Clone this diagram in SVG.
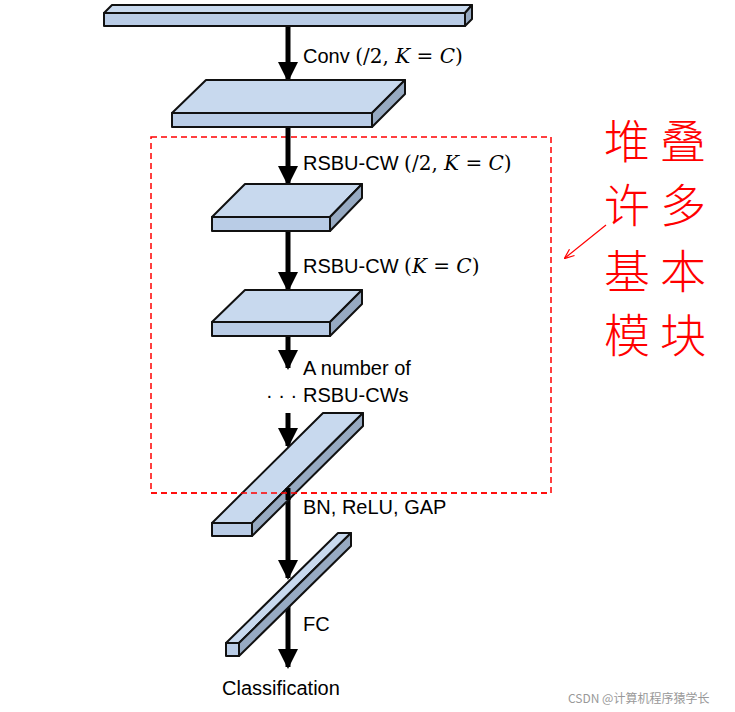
<svg xmlns="http://www.w3.org/2000/svg" width="735" height="712" viewBox="0 0 735 712">
<style>
.t{fill:#c8d9ee;stroke:#111;stroke-width:2;stroke-linejoin:round}
.f{fill:#b9cce6;stroke:#111;stroke-width:2;stroke-linejoin:round}
.s{fill:#97aac2;stroke:#111;stroke-width:2;stroke-linejoin:round}
.sh{stroke:#000;stroke-width:5}
.lb{font-family:"Liberation Sans",Arial,sans-serif;font-size:20px;fill:#000}
.m{font-family:"DejaVu Serif",serif;font-style:italic}
.o{font-family:"DejaVu Serif",serif}
.cn{font-family:"Noto Sans CJK SC",sans-serif;font-size:46px;font-weight:300;fill:#f00}
</style>
<defs>
<marker id="ah" markerWidth="4" markerHeight="4" refX="3.6" refY="2" orient="auto" markerUnits="strokeWidth" viewBox="0 0 4 4"><path d="M0,0 L4,2 L0,4 Z" fill="#000"/></marker>
<marker id="rh" markerWidth="10" markerHeight="10" refX="9" refY="5" orient="auto" markerUnits="userSpaceOnUse" viewBox="0 0 10 10"><path d="M0,1 L10,5 L0,9" fill="none" stroke="#f00" stroke-width="1.2"/></marker>
</defs>
<rect x="151" y="137" width="400" height="356" fill="none" stroke="#f00" stroke-width="1.5" stroke-dasharray="6,4"/>
<g id="connectors">
<line class="sh" x1="288" y1="26" x2="288" y2="80" marker-end="url(#ah)"/>
<line class="sh" x1="288" y1="127" x2="288" y2="184" marker-end="url(#ah)"/>
<line class="sh" x1="288" y1="231" x2="288" y2="290" marker-end="url(#ah)"/>
<line class="sh" x1="288" y1="336" x2="288" y2="368" marker-end="url(#ah)"/>
<line class="sh" x1="288" y1="413" x2="288" y2="446" marker-end="url(#ah)"/>
<line class="sh" x1="288" y1="480" x2="288" y2="578" marker-end="url(#ah)"/>
<line class="sh" x1="288" y1="595" x2="288" y2="667" marker-end="url(#ah)"/>
<line x1="606" y1="225" x2="565" y2="258" stroke="#f00" stroke-width="1.2" marker-end="url(#rh)"/>
</g>
<g id="n1"><polygon class="t" points="104,13 112,5 472,5 465,13"/><polygon class="s" points="465,13 472,5 472,19 465,26"/><rect class="f" x="104" y="13" width="361" height="13"/></g>
<g id="n2"><polygon class="t" points="172,113 206,80 405,80 372,113"/><polygon class="s" points="372,113 405,80 405,94 372,127"/><rect class="f" x="172" y="113" width="200" height="14"/></g>
<g id="n3"><polygon class="t" points="212,217 245,184 362,184 330,217"/><polygon class="s" points="330,217 362,184 362,198 330,231"/><rect class="f" x="212" y="217" width="118" height="14"/></g>
<g id="n4"><polygon class="t" points="212,322 245,290 362,290 330,322"/><polygon class="s" points="330,322 362,290 362,304 330,336"/><rect class="f" x="212" y="322" width="118" height="14"/></g>
<g id="n5"><polygon class="t" points="212,523 323,413 363,413 252,523"/><polygon class="s" points="252,523 363,413 363,426 252,536"/><rect class="f" x="212" y="523" width="40" height="13"/></g>
<line x1="288" y1="488" x2="288" y2="500" stroke="#000" stroke-width="5"/>
<line x1="151" y1="493" x2="551" y2="493" stroke="#f00" stroke-width="1.5" stroke-dasharray="6,4"/>
<g id="n6"><polygon class="t" points="226,643 338,533 351,533 239,643"/><polygon class="s" points="239,643 351,533 351,546 239,656"/><rect class="f" x="226" y="643" width="13" height="13"/></g>
<g id="labels">
<text class="lb" x="303" y="63">Conv <tspan class="o">(/2, </tspan><tspan class="m">K</tspan><tspan class="o"> = </tspan><tspan class="m">C</tspan><tspan class="o">)</tspan></text>
<text class="lb" x="303" y="170">RSBU-CW <tspan class="o">(/2, </tspan><tspan class="m">K</tspan><tspan class="o"> = </tspan><tspan class="m">C</tspan><tspan class="o">)</tspan></text>
<text class="lb" x="303" y="273">RSBU-CW <tspan class="o">(</tspan><tspan class="m">K</tspan><tspan class="o"> = </tspan><tspan class="m">C</tspan><tspan class="o">)</tspan></text>
<text class="lb" x="303" y="375">A number of</text>
<text class="lb" x="266" y="402">· · ·</text>
<text class="lb" x="303" y="402">RSBU-CWs</text>
<text class="lb" x="303" y="514">BN, ReLU, GAP</text>
<text class="lb" x="303" y="631">FC</text>
<text class="lb" x="222" y="695">Classification</text>
<text class="cn" x="604" y="158">堆</text><text class="cn" x="660" y="158">叠</text>
<text class="cn" x="604" y="222">许</text><text class="cn" x="660" y="222">多</text>
<text class="cn" x="604" y="288">基</text><text class="cn" x="660" y="288">本</text>
<text class="cn" x="604" y="352">模</text><text class="cn" x="660" y="352">块</text>
<text x="568" y="703" font-family="'Noto Sans CJK SC',sans-serif" font-size="12" fill="#999">CSDN @计算机程序猿学长</text>
</g>
</svg>
